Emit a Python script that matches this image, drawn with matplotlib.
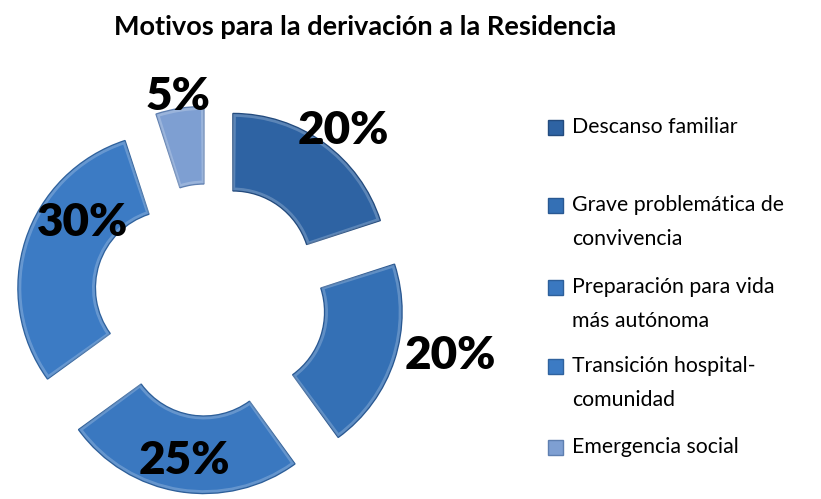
import matplotlib
matplotlib.use("Agg")
import matplotlib.pyplot as plt
from matplotlib.patches import Rectangle, Wedge
import numpy as np

title = "Motivos para la derivación a la Residencia"
categories = ["Descanso familiar",
              "Grave problemática de\nconvivencia",
              "Preparación para vida\nmás autónoma",
              "Transición hospital-\ncomunidad",
              "Emergencia social"]
values = [20, 20, 25, 30, 5]
pct_labels = ["20%", "20%", "25%", "30%", "5%"]

colors = ["#2E63A3", "#3470B5", "#3A78C0", "#3C7BC4", "#7E9FD2"]
edge_colors = ["#234B7E", "#295892", "#2D5F9A", "#2F629E", "#5E7FB0"]
# style: radial factor / angular shift (deg) for each percentage label
label_rfac = [1.14, 1.34, 0.80, 0.72, 1.08]
label_dang = [-2.5, 6, 0, -18, 0]

W, H = 821, 499
fig = plt.figure(figsize=(W / 100, H / 100), dpi=100)
ax = fig.add_axes([0, 0, 1, 1])

cx, cy = 210, H - 300
R = 155
hole = 0.50
expl = 39

wedges, _ = ax.pie(values, radius=R, center=(cx, cy), startangle=90,
                   counterclock=False, colors=colors,
                   explode=[expl] * len(values),
                   wedgeprops=dict(width=R * (1 - hole), linewidth=1.0),
                   frame=True)
for w, ec in zip(wedges, edge_colors):
    w.set_edgecolor(ec)

# subtle bevel highlight
for w in wedges:
    hl = Wedge(w.center, w.r - 2, w.theta1 + 0.6, w.theta2 - 0.6,
               width=w.width - 4, facecolor="none", edgecolor="white",
               alpha=0.22, linewidth=2.0)
    ax.add_patch(hl)

for w, lab, f, da in zip(wedges, pct_labels, label_rfac, label_dang):
    mid = np.deg2rad(0.5 * (w.theta1 + w.theta2) + da)
    x = w.center[0] + f * R * np.cos(mid)
    y = w.center[1] + f * R * np.sin(mid)
    ax.text(x, y, lab, ha="center", va="center", fontsize=33,
            fontweight="heavy", family="Lato", color="black")

ax.set_xlim(0, W)
ax.set_ylim(0, H)
ax.set_aspect("equal")
ax.axis("off")

fig.text(365 / W, 1 - 27 / H, title, ha="center", va="center",
         fontsize=19.5, fontweight="bold", family="Lato")

# legend drawn manually
leg_y = [127, 205, 287, 366, 447]
line_gap = 34
for yy, cat, col, ec in zip(leg_y, categories, colors, edge_colors):
    ax.add_patch(Rectangle((548, H - yy - 7.5), 15, 15, facecolor=col,
                           edgecolor=ec, linewidth=1))
    for i, line in enumerate(cat.split("\n")):
        ax.text(572, H - yy - i * line_gap, line, ha="left",
                va="center", fontsize=15.3, family="Lato")

fig.savefig("out.png", dpi=100)
